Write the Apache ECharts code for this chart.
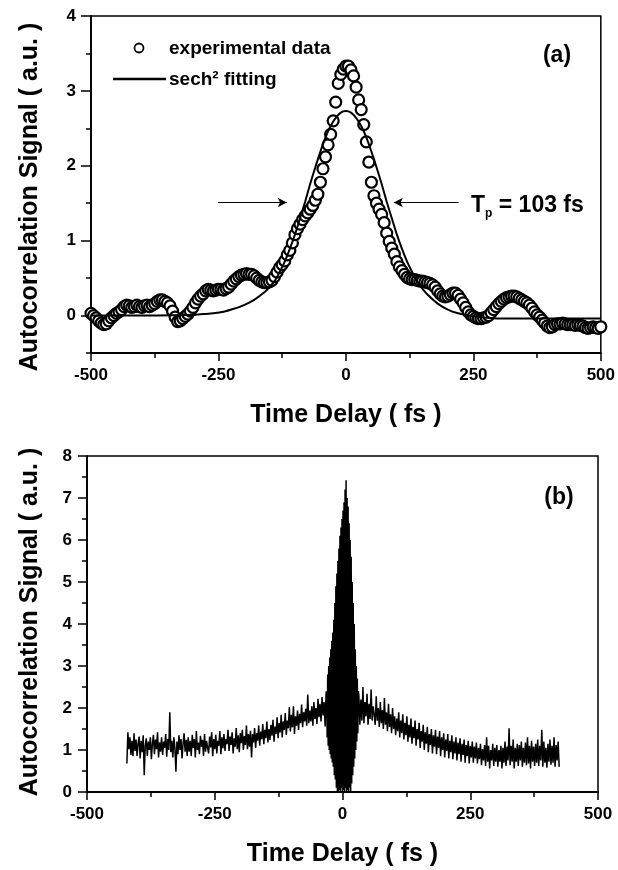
<!DOCTYPE html>
<html>
<head>
<meta charset="utf-8">
<script src="https://cdn.jsdelivr.net/npm/echarts@6/dist/echarts.min.js"></script>
<style>
html,body{margin:0;padding:0;background:#fff;}
#chart{width:618px;height:870px;}
</style>
</head>
<body>
<div id="chart"></div>
<script>
// ---------- DATA ----------
// (a) experimental autocorrelation, sampled every 5 fs from -500 fs
const expStart = -500;
const expStep = 5;
const expSignal = [
  0.03,0.00,-0.03,-0.07,-0.10,-0.12,-0.11,-0.07,-0.03,0.00,
  0.03,0.05,0.08,0.12,0.14,0.13,0.11,0.12,0.14,0.12,
  0.11,0.13,0.14,0.12,0.14,0.16,0.19,0.21,0.21,0.19,
  0.17,0.13,0.06,-0.02,-0.08,-0.07,-0.04,-0.01,0.02,0.06,
  0.11,0.17,0.22,0.26,0.29,0.33,0.35,0.34,0.33,0.34,
  0.35,0.35,0.34,0.36,0.38,0.42,0.46,0.49,0.52,0.54,
  0.55,0.56,0.55,0.55,0.53,0.50,0.47,0.45,0.44,0.44,
  0.45,0.47,0.52,0.58,0.64,0.68,0.73,0.81,0.87,0.97,
  1.08,1.16,1.22,1.28,1.33,1.37,1.42,1.47,1.54,1.62,
  1.78,1.96,2.12,2.28,2.42,2.60,2.85,3.10,3.22,3.29,
  3.33,3.33,3.28,3.20,3.05,2.88,2.75,2.55,2.32,2.05,
  1.78,1.60,1.50,1.42,1.35,1.24,1.10,0.99,0.90,0.82,
  0.72,0.65,0.60,0.55,0.51,0.49,0.48,0.48,0.47,0.46,
  0.46,0.45,0.44,0.43,0.41,0.38,0.33,0.29,0.26,0.25,
  0.26,0.28,0.30,0.30,0.27,0.22,0.17,0.11,0.05,0.01,
  -0.01,-0.03,-0.04,-0.04,-0.03,-0.02,0.00,0.04,0.08,0.12,
  0.16,0.19,0.22,0.24,0.25,0.26,0.26,0.25,0.23,0.21,
  0.19,0.17,0.14,0.10,0.05,0.01,-0.02,-0.06,-0.10,-0.14,
  -0.16,-0.15,-0.12,-0.11,-0.11,-0.10,-0.11,-0.12,-0.12,-0.12,
  -0.13,-0.12,-0.13,-0.14,-0.16,-0.17,-0.16,-0.15,-0.16,-0.17,
  -0.15
];

// (a) sech^2 fitting curve
const fitTime = [-500,-400,-340,-300,-280,-260,-240,-220,-200,-180,
  -160,-150,-140,-130,-120,-110,-100,-90,-80,-70,
  -60,-50,-40,-30,-20,-10,0,10,20,30,
  40,50,60,70,80,90,100,110,120,130,
  140,150,160,180,200,220,240,260,280,300,
  400,500];
const fitSignal = [0,0,0.005,0.01,0.02,0.03,0.05,0.09,0.14,0.21,
  0.31,0.38,0.46,0.58,0.72,0.89,1.08,1.30,1.52,1.76,
  1.98,2.19,2.38,2.53,2.64,2.71,2.73,2.71,2.64,2.53,
  2.38,2.19,1.98,1.76,1.52,1.30,1.08,0.89,0.72,0.58,
  0.45,0.36,0.28,0.16,0.08,0.03,0.00,-0.02,-0.03,-0.04,
  -0.04,-0.04];

// (b) interferometric autocorrelation
// left wing: every 2 fs from -422 to -32 fs
const bLeftStart = -422;
const bLeftStep = 2;
const bLeftWing = [
  0.68,1.42,1.02,1.30,0.88,1.22,0.85,1.40,0.98,1.25,0.86,1.15,1.32,0.80,1.22,0.95,1.35,0.40,1.10,1.28,
  0.86,1.20,1.00,1.30,0.78,1.15,1.36,0.90,1.25,1.02,1.42,0.82,1.18,0.96,1.30,0.88,1.20,1.05,1.38,0.84,
  1.26,1.00,1.90,0.95,1.22,0.82,1.30,1.05,0.48,1.20,0.90,1.35,1.00,1.26,0.80,1.15,1.40,0.96,1.24,0.86,
  1.30,0.96,1.22,0.86,1.36,1.05,1.26,0.82,1.45,1.00,1.18,0.90,1.34,1.08,1.24,0.86,1.38,0.96,1.22,1.05,
  0.92,1.32,1.06,1.42,0.85,1.26,1.02,1.36,0.92,1.22,1.10,1.45,0.90,1.30,1.04,1.38,0.98,1.26,1.14,1.48,
  0.98,1.32,1.12,1.42,0.92,1.28,1.08,1.52,1.02,1.35,0.95,1.40,1.16,1.48,1.00,1.33,1.12,1.58,1.02,1.38,
  1.08,1.46,0.82,1.38,1.18,1.52,1.05,1.40,1.22,1.58,1.10,1.44,1.26,1.62,1.14,1.48,1.28,1.68,1.18,1.50,
  1.24,1.60,1.34,1.72,1.20,1.56,1.38,1.78,1.28,1.64,1.42,1.84,1.30,1.68,1.48,1.88,1.36,1.70,1.52,2.02,
  1.44,1.84,1.54,2.04,1.38,1.80,1.58,1.94,1.48,1.86,1.64,2.08,1.54,1.90,1.68,1.98,1.58,2.32,1.64,1.94,
  1.68,2.04,1.58,2.14,1.74,2.00,1.62,2.22,1.78,2.10,1.68,2.26,1.82,2.14,1.56,2.40
];
// central fringes: every 1 fs from -31 to 31 fs
const bCenterStart = -31;
const bCenterStep = 1;
const bCenter = [
  2.20,1.30,2.80,1.10,3.00,1.00,3.20,0.90,3.40,0.80,3.60,0.70,3.80,0.60,4.10,0.40,
  4.50,0.30,4.90,0.10,5.20,0.00,5.50,0.00,5.80,0.05,6.10,0.00,6.30,0.10,6.50,0.00,
  6.70,0.05,6.90,0.00,7.20,0.10,7.42,0.00,7.00,0.05,6.80,0.00,6.40,0.10,6.00,0.00,
  5.60,0.20,5.00,0.40,4.50,0.60,4.00,0.80,3.40,1.00,3.00,1.20,2.70,1.40,2.40
];
// right wing: every 2 fs from 32 to 424 fs
const bRightStart = 32;
const bRightStep = 2;
const bRightWing = [
  2.30,1.60,2.20,1.70,2.50,1.64,2.14,1.80,2.34,1.60,2.10,1.74,2.44,1.70,2.04,1.84,
  1.60,2.28,1.70,2.00,1.55,2.14,1.64,1.95,1.50,2.24,1.60,1.90,1.45,2.10,1.55,1.85,1.40,2.00,1.50,1.80,
  1.35,1.75,1.45,1.90,1.30,1.70,1.40,1.85,1.25,1.65,1.35,1.80,1.20,1.60,1.30,1.75,1.15,1.55,1.28,1.70,
  1.10,1.50,1.25,1.65,1.05,1.45,1.20,1.60,1.00,1.42,1.15,1.55,0.95,1.38,1.12,1.50,0.92,1.35,1.08,1.48,
  0.90,1.32,1.05,1.45,0.85,1.30,1.00,1.40,0.82,1.25,0.98,1.38,0.80,1.22,0.95,1.35,0.78,1.20,0.92,1.30,
  0.75,1.18,0.90,1.28,0.72,1.15,0.88,1.25,0.70,1.12,0.85,1.22,0.68,1.10,0.82,1.20,0.70,1.08,0.80,1.18,
  0.68,1.05,0.78,1.15,0.64,1.02,0.75,1.12,0.62,1.30,0.72,1.10,0.56,1.00,0.75,1.15,0.62,1.05,0.72,1.12,
  0.60,1.00,0.72,1.10,0.56,1.05,0.70,1.20,0.62,1.08,0.75,1.52,0.64,1.10,0.72,1.25,0.56,1.05,0.72,1.15,
  0.62,1.12,0.75,1.20,0.60,1.05,0.70,1.18,0.64,1.30,0.68,1.10,0.56,1.22,0.72,1.08,0.62,1.15,0.70,1.25,
  0.62,1.10,0.75,1.48,0.60,1.20,0.70,1.05,0.58,1.15,0.72,1.25,0.65,1.10,0.70,1.30,0.60,1.12,0.75,1.20,0.60
];

// tick labels
const xTicks = [-500, -250, 0, 250, 500];
const yTicksA = [0, 1, 2, 3, 4];
const yMinorA = [-0.5, 0.5, 1.5, 2.5, 3.5];

// FWHM arrows (data coords)
const arrowLevel = 1.51;
const arrowLeft = [-251, -116];
const arrowRight = [221, 94];

// ---------- BUILD ----------
const expData = expSignal.map((v, i) => [expStart + i * expStep, v]);
const fitData = fitTime.map((t, i) => [t, fitSignal[i]]);
const bData = []
  .concat(bLeftWing.map((v, i) => [bLeftStart + i * bLeftStep, v]))
  .concat(bCenter.map((v, i) => [bCenterStart + i * bCenterStep, v]))
  .concat(bRightWing.map((v, i) => [bRightStart + i * bRightStep, v]));

const FONT = "'Liberation Sans', Arial, Helvetica, sans-serif";
const black = '#000';

function xAxisCfg(gridIndex) {
  return {
    type: 'value', gridIndex, min: -500, max: 500, interval: 250,
    axisLine: { show: true, onZero: false, lineStyle: { color: black, width: 1.8 } },
    axisTick: { show: true, length: 8, lineStyle: { color: black, width: 1.5 } },
    minorTick: { show: true, splitNumber: 2, length: 5, lineStyle: { color: black, width: 1.5 } },
    splitLine: { show: false }, minorSplitLine: { show: false },
    axisLabel: { color: black, fontFamily: FONT, fontWeight: 'bold', fontSize: 17, margin: 14,
      customValues: xTicks },
    name: 'Time Delay ( fs )', nameLocation: 'middle', nameGap: 50,
    nameTextStyle: { color: black, fontFamily: FONT, fontWeight: 'bold', fontSize: 25 }
  };
}

const chart = echarts.init(document.getElementById('chart'), null, { renderer: 'canvas' });

const option = {
  animation: false,
  backgroundColor: '#fff',
  grid: [
    { left: 91, top: 16, width: 512, height: 337, show: true, borderColor: black, borderWidth: 1.5, backgroundColor: 'transparent' },
    { left: 87, top: 456, width: 511, height: 336, show: true, borderColor: black, borderWidth: 1.5, backgroundColor: 'transparent' }
  ],
  xAxis: [xAxisCfg(0), xAxisCfg(1)],
  yAxis: [
    {
      type: 'value', gridIndex: 0, min: -0.5, max: 4, position: 'left',
      axisLine: { show: true, onZero: false, lineStyle: { color: black, width: 1.8 } },
      axisTick: { show: true, length: 10, customValues: yTicksA, lineStyle: { color: black, width: 1.5 } },
      splitLine: { show: false },
      axisLabel: { color: black, fontFamily: FONT, fontWeight: 'bold', fontSize: 17, margin: 15, customValues: yTicksA }
    },
    {
      type: 'value', gridIndex: 0, min: -0.5, max: 4, position: 'left', offset: 0,
      axisLine: { show: false, onZero: false },
      axisTick: { show: true, length: 5, customValues: yMinorA, lineStyle: { color: black, width: 1.5 } },
      splitLine: { show: false },
      axisLabel: { show: false }
    },
    {
      type: 'value', gridIndex: 1, min: 0, max: 8, interval: 1, position: 'left',
      axisLine: { show: true, onZero: false, lineStyle: { color: black, width: 1.8 } },
      axisTick: { show: true, length: 9, lineStyle: { color: black, width: 1.5 } },
      minorTick: { show: true, splitNumber: 2, length: 5, lineStyle: { color: black, width: 1.5 } },
      splitLine: { show: false }, minorSplitLine: { show: false },
      axisLabel: { color: black, fontFamily: FONT, fontWeight: 'bold', fontSize: 17, margin: 15 }
    }
  ],
  series: [
    {
      name: 'experimental data', type: 'scatter', xAxisIndex: 0, yAxisIndex: 0,
      data: expData, symbol: 'circle', symbolSize: 11,
      itemStyle: { color: '#fff', borderColor: black, borderWidth: 2.2, opacity: 1 },
      z: 2
    },
    {
      name: 'sech2 fitting', type: 'line', xAxisIndex: 0, yAxisIndex: 0,
      data: fitData, smooth: 0.2, showSymbol: false, symbol: 'none',
      lineStyle: { color: black, width: 2 },
      z: 3,
      markLine: {
        silent: true, symbol: ['none', 'arrow'], symbolSize: [7, 9],
        label: { show: false },
        lineStyle: { color: black, width: 1.2, type: 'solid' },
        data: [
          [{ coord: [arrowLeft[0], arrowLevel] }, { coord: [arrowLeft[1], arrowLevel] }],
          [{ coord: [arrowRight[0], arrowLevel] }, { coord: [arrowRight[1], arrowLevel] }]
        ]
      }
    },
    {
      name: 'autocorrelation', type: 'line', xAxisIndex: 1, yAxisIndex: 2,
      data: bData, showSymbol: false, symbol: 'none', sampling: null,
      lineStyle: { color: black, width: 1.5 },
      z: 2
    }
  ],
  graphic: [
    { type: 'text', x: 30, y: 197, rotation: Math.PI / 2,
      style: { text: 'Autocorrelation Signal ( a.u. )', font: "bold 25px " + FONT, fill: black, align: 'center', verticalAlign: 'middle' } },
    { type: 'text', x: 30, y: 622, rotation: Math.PI / 2,
      style: { text: 'Autocorrelation Signal ( a.u. )', font: "bold 25px " + FONT, fill: black, align: 'center', verticalAlign: 'middle' } },
    { type: 'circle', shape: { cx: 139, cy: 48, r: 4.5 }, style: { fill: '#fff', stroke: black, lineWidth: 1.8 } },
    { type: 'text', x: 169, y: 49, style: { text: 'experimental data', font: "bold 19px " + FONT, fill: black, align: 'left', verticalAlign: 'middle' } },
    { type: 'line', shape: { x1: 113, y1: 79, x2: 166, y2: 79 }, style: { stroke: black, lineWidth: 2.5 } },
    { type: 'text', x: 169, y: 80, style: { text: 'sech² fitting', font: "bold 19px " + FONT, fill: black, align: 'left', verticalAlign: 'middle' } },
    { type: 'text', x: 557, y: 56, style: { text: '(a)', font: "bold 23px " + FONT, fill: black, align: 'center', verticalAlign: 'middle' } },
    { type: 'text', x: 559, y: 498, style: { text: '(b)', font: "bold 23px " + FONT, fill: black, align: 'center', verticalAlign: 'middle' } },
    { type: 'text', x: 471, y: 206,
      style: {
        text: '{t|T}{p|p}{t| = 103 fs}', align: 'left', verticalAlign: 'middle', fill: black,
        rich: {
          t: { fontFamily: FONT, fontWeight: 'bold', fontSize: 23, lineHeight: 28, fill: black },
          p: { fontFamily: FONT, fontWeight: 'bold', fontSize: 12, lineHeight: 12, verticalAlign: 'bottom', fill: black }
        }
      } }
  ]
};

chart.setOption(option);
</script>
</body>
</html>
